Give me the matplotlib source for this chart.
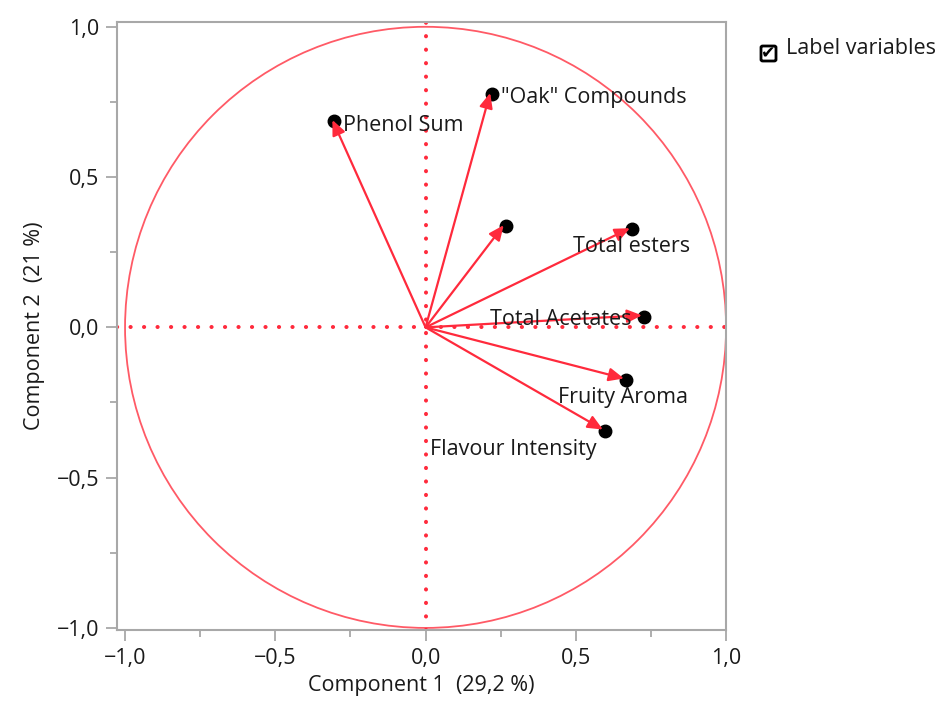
"""
Loading plot of the first two principal components (JMP style).
"""
import numpy as np
import matplotlib
matplotlib.use('Agg')
import matplotlib.pyplot as plt
from matplotlib.patches import Circle, FancyBboxPatch
from matplotlib.ticker import FixedLocator, MultipleLocator

plt.rcParams['font.family'] = ['Open Sans', 'DejaVu Sans']

# loadings
variables = ['Phenol Sum', '"Oak" Compounds', '', 'Total esters',
             'Total Acetates', 'Fruity Aroma', 'Flavour Intensity']
comp1 = [-0.31, 0.215, 0.26, 0.68, 0.72, 0.66, 0.59]
comp2 = [0.69, 0.78, 0.34, 0.33, 0.04, -0.17, -0.34]
# label anchors (left, centre) in data units
label_x = [-0.275, 0.25, 0.26, 0.49, 0.215, 0.44, 0.015]
label_y = [0.67, 0.765, 0.34, 0.27, 0.025, -0.235, -0.405]

tick_vals = [-1.0, -0.5, 0.0, 0.5, 1.0]
tick_labels = ['\u22121,0', '\u22120,5', '0,0', '0,5', '1,0']

RED = '#ff2a3c'
LINE = '#ff5a66'
GREY = '#a8a8a8'
TXT = '#1a1a1a'

fig = plt.figure(figsize=(9.43, 7.09), dpi=100)
ax = fig.add_axes([0.124, 0.1114, 0.646, 0.858])

# unit circle
ax.add_patch(Circle((0, 0), 1.0, fill=False, edgecolor=LINE, lw=1.3))

# dotted axes through the origin
dots = dict(color=RED, ls=(0, (0.05, 3.3)), lw=2.9, dash_capstyle='round')
ax.axhline(0, **dots)
ax.axvline(0, **dots)

# endpoint dots then arrows
for x, y in zip(comp1, comp2):
    ax.plot(x + 0.006, y - 0.004, 'o', color='black', ms=9, zorder=3)
    ax.annotate('', xy=(x, y), xytext=(0, 0),
                arrowprops=dict(arrowstyle='-|>,head_length=0.9,head_width=0.4',
                                color=RED, lw=1.6, shrinkA=0, shrinkB=0),
                zorder=4)

for name, tx, ty in zip(variables, label_x, label_y):
    if name:
        ax.text(tx, ty, name, fontsize=15.5, color=TXT,
                ha='left', va='center', zorder=5)

ax.set_xlim(-1.027, 1.0)
ax.set_ylim(-1.007, 1.017)
ax.xaxis.set_major_locator(FixedLocator(tick_vals))
ax.yaxis.set_major_locator(FixedLocator(tick_vals))
ax.set_xticklabels(tick_labels)
ax.set_yticklabels(tick_labels)
ax.xaxis.set_minor_locator(MultipleLocator(0.25))
ax.yaxis.set_minor_locator(MultipleLocator(0.25))
ax.tick_params(which='major', length=8, width=1.3, color=GREY,
               labelsize=15.5, labelcolor=TXT, pad=5)
ax.tick_params(which='minor', length=5, width=1.3, color=GREY)
for sp in ax.spines.values():
    sp.set_color(GREY)
    sp.set_linewidth(1.5)

ax.set_xlabel('Component 1  (29,2 %)', fontsize=15.5, color=TXT, labelpad=4)
ax.set_ylabel('Component 2  (21 %)', fontsize=15.5, color=TXT, labelpad=8)

# "Label variables" checkbox
box = FancyBboxPatch((761 / 943, 1 - 61 / 709), 15 / 943, 15 / 709,
                     boxstyle='round,pad=0.0,rounding_size=0.002',
                     transform=fig.transFigure, fill=False,
                     edgecolor='black', lw=2.0)
fig.patches.append(box)
fig.text(768.5 / 943, 1 - 53.5 / 709, '\u2714', fontsize=12.5, ha='center',
         va='center', family='DejaVu Sans')
fig.text(786 / 943, 1 - 48 / 709, 'Label variables', fontsize=15.5,
         color=TXT, ha='left', va='center')

fig.savefig('out.png', dpi=100)
